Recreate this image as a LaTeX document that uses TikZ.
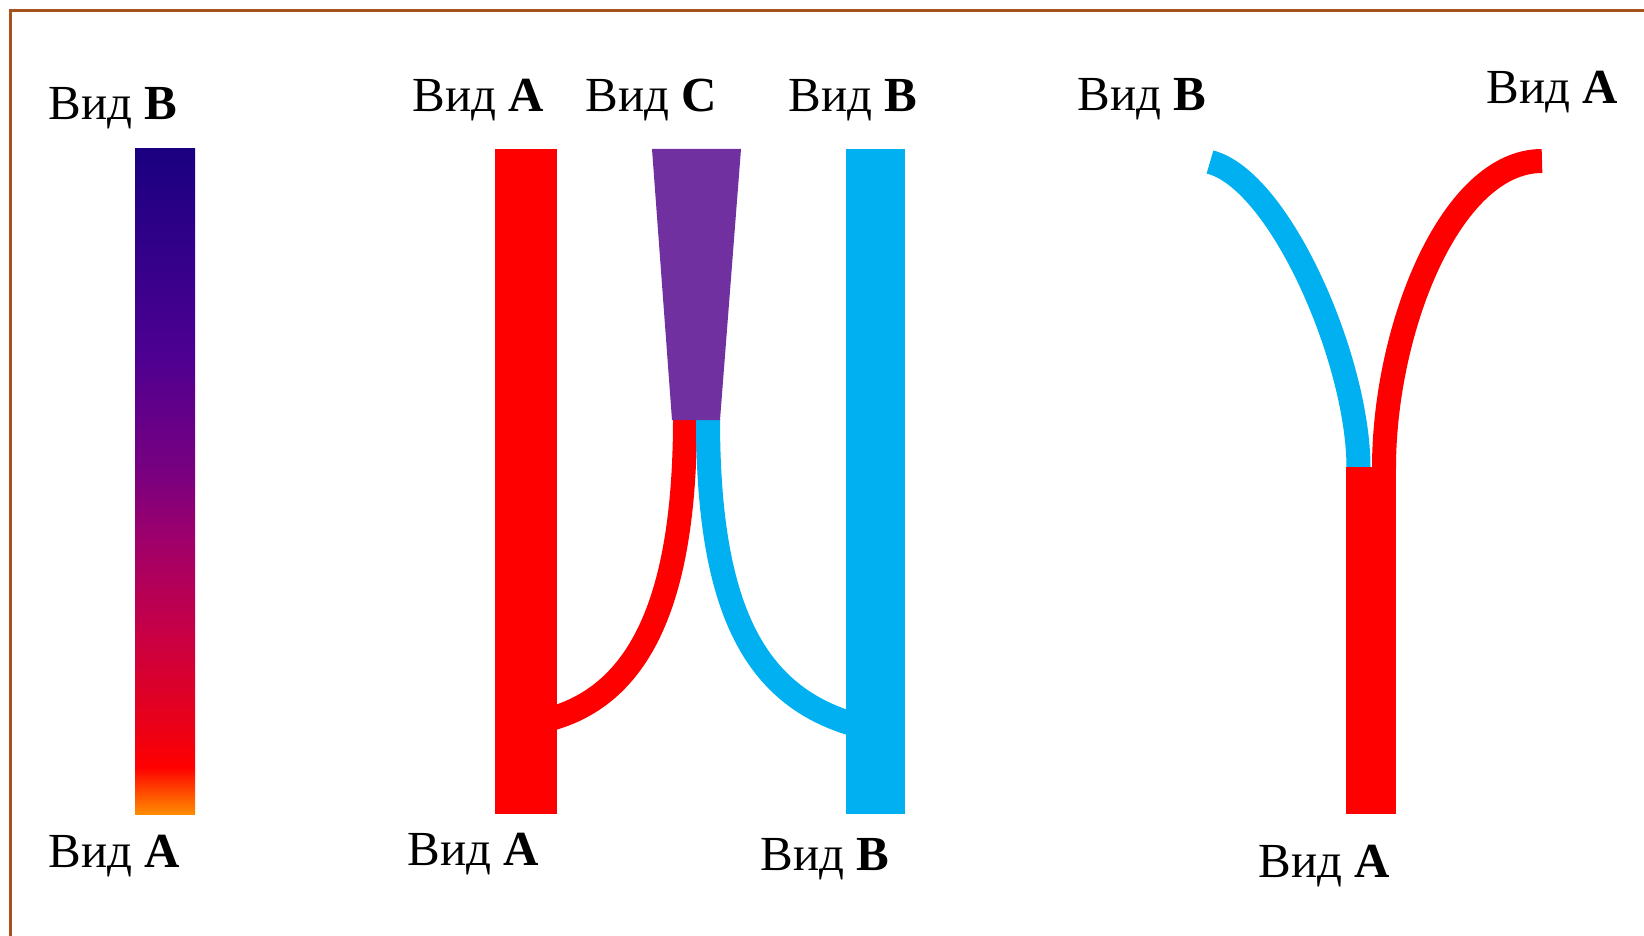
\documentclass[tikz,border=0pt]{standalone}
\usepackage{fontspec}
\setmainfont{Liberation Serif}

\definecolor{frameBrown}{HTML}{A5521B}
\definecolor{spA}{HTML}{FF0000}
\definecolor{spB}{HTML}{00B0F0}
\definecolor{spC}{HTML}{7030A0}
\definecolor{hyTop}{HTML}{1A0080}
\definecolor{hyViolet}{HTML}{4B0092}
\definecolor{hyPurple}{HTML}{7A0080}
\definecolor{hyMagenta}{HTML}{A0006A}
\definecolor{hyCrimson}{HTML}{C80045}
\definecolor{hyScarlet}{HTML}{E8001A}
\definecolor{hyOrange}{HTML}{FF8C00}
\pgfdeclareverticalshading{hybridshade}{100bp}{color(0bp)=(hyOrange); color(25bp)=(hyOrange);
  color(28.5bp)=(spA); color(32bp)=(hyScarlet); color(38.5bp)=(hyCrimson);
  color(45.5bp)=(hyMagenta); color(50.5bp)=(hyPurple); color(60bp)=(hyViolet);
  color(75bp)=(hyTop); color(100bp)=(hyTop)}

\begin{document}
\begin{tikzpicture}[
  x=0.5pt, y=-0.5pt,
  lbl/.style={font=\fontsize{24.5}{28}\selectfont, inner sep=0pt, anchor=base west},
  band/.style={line width=12pt},
  frameline/.style={draw=frameBrown, line width=1.25pt}
]
  \useasboundingbox (0,0) rectangle (1644,936);
  \draw[frameline] (10.5,936) -- (10.5,10.5) -- (1644,10.5);

  % hybrid strip
  \shade[shading=hybridshade] (135,149) rectangle (195,814);
  \node[lbl] (hybTop) at (48,120) {Вид \textbf{B}};
  \node[lbl] (hybBot) at (48,867) {Вид \textbf{A}};

  % species C between A and B
  \coordinate (splitA) at (685,419);
  \coordinate (splitB) at (708,419);
  \coordinate (joinA) at (557,717);
  \coordinate (joinB) at (846,722);
  \draw[band, spA] (splitA) .. controls (685,600) and (640,690) .. (joinA) -- ++(-20,6.5);
  \draw[band, spB] (splitB) .. controls (708,600) and (750,690) .. (joinB) -- ++(20,6.7);
  \fill[spC] (652,149) -- (741,149) -- (720,420) -- (672,420) -- cycle;
  \fill[spA] (495,149) rectangle (557,814);
  \fill[spB] (846,149) rectangle (905,814);
  \node[lbl] (midTopA) at (412,112) {Вид \textbf{A}};
  \node[lbl] (midTopC) at (585,112) {Вид \textbf{C}};
  \node[lbl] (midTopB) at (788,112) {Вид \textbf{B}};
  \node[lbl] (midBotA) at (407,865) {Вид \textbf{A}};
  \node[lbl] (midBotB) at (760,870) {Вид \textbf{B}};

  % fork
  \coordinate (forkB) at (1358.5,468);
  \coordinate (forkA) at (1384,468);
  \draw[band, spB] (1210,162) .. controls (1280,180) and (1358.5,360) .. (forkB);
  \draw[band, spA] (forkA) .. controls (1384,330) and (1450,161) .. (1542,161);
  \fill[spA] (1346,467) rectangle (1396,814);
  \node[lbl] (rTopB) at (1077,111) {Вид \textbf{B}};
  \node[lbl] (rTopA) at (1486,104) {Вид \textbf{A}};
  \node[lbl] (rBotA) at (1258,877) {Вид \textbf{A}};
\end{tikzpicture}
\end{document}
